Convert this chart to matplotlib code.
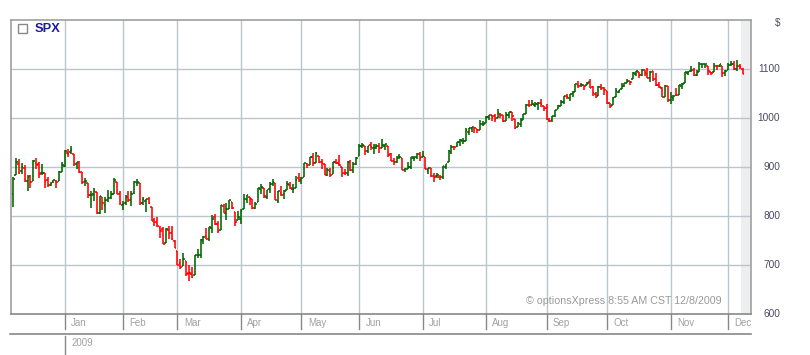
######
# SPX daily OHLC chart, Dec 2008 - Dec 2009 (optionsXpress style)
######

import numpy as np
import matplotlib
matplotlib.use("Agg")
import matplotlib.pyplot as plt
from matplotlib.lines import Line2D
from matplotlib.patches import Rectangle
from matplotlib.transforms import blended_transform_factory

plt.rcParams['font.family'] = ['Liberation Sans', 'DejaVu Sans']

# Daily bars from 5 Dec 2008 to 8 Dec 2009 (one row per month)
opens = [
    844.43, 882.71, 906.48, 892.17, 898.35, 871.79, 881.07, 871.53, 908.16, 905.98, 886.96, 887.20, 874.31, 863.87, 869.51, 872.37, 870.58, 890.59,
    902.99, 929.17, 931.17, 927.45, 905.73, 909.91, 890.40, 869.79, 867.28, 841.99, 844.45, 849.64, 806.77, 839.74, 822.16, 832.50, 837.30, 845.73, 868.89, 845.69,
    823.09, 825.69, 837.77, 831.75, 846.09, 868.24, 866.87, 827.41, 829.91, 833.95, 818.61, 791.06, 787.91, 775.87, 773.25, 744.69, 770.64, 765.76, 749.93,
    729.57, 704.44, 698.60, 708.27, 684.04, 680.76, 679.28, 719.59, 720.89, 751.97, 758.84, 753.88, 776.01, 797.92, 784.58, 772.31, 820.60, 806.81, 814.06, 828.68, 809.07, 790.88,
    793.59, 814.53, 835.13, 839.75, 834.12, 816.76, 829.29, 855.33, 856.88, 839.44, 854.54, 865.18, 868.27, 831.25, 847.26, 844.62, 853.91, 862.82, 854.48, 856.85, 876.59,
    872.74, 879.21, 906.10, 903.95, 919.58, 909.03, 922.99, 910.52, 905.40, 884.24, 892.76, 886.07, 909.67, 908.62, 900.42, 888.68, 887.00, 909.95, 892.96, 907.02,
    923.26, 942.87, 942.51, 932.49, 945.67, 938.12, 940.35, 942.73, 939.04, 943.44, 942.45, 925.60, 911.89, 910.86, 919.96, 918.13, 893.46, 896.31, 899.45, 918.84, 919.86, 927.15,
    920.82, 921.24, 894.27, 898.60, 881.90, 881.28, 880.03, 879.57, 900.77, 910.15, 930.17, 940.56, 942.07, 951.97, 953.40, 954.07, 972.16, 978.63, 981.48, 977.66, 976.01, 986.80,
    990.22, 1001.41, 1005.41, 1004.06, 999.83, 1008.89, 1005.77, 994.00, 1005.86, 1012.23, 998.18, 980.62, 986.88, 996.41, 1009.06, 1026.59, 1026.63, 1027.35, 1027.81, 1031.62, 1025.21,
    1019.52, 996.07, 996.12, 1003.84, 1018.67, 1025.36, 1032.99, 1043.92, 1040.15, 1049.03, 1053.99, 1067.87, 1066.60, 1067.14, 1066.35, 1072.69, 1062.56, 1049.48, 1045.38, 1063.69, 1061.02,
    1054.91, 1029.71, 1026.87, 1042.02, 1053.65, 1060.03, 1065.28, 1071.63, 1074.96, 1078.68, 1090.36, 1094.67, 1088.22, 1098.64, 1090.36, 1080.96, 1095.62, 1080.36, 1067.54, 1061.51, 1043.69, 1065.41,
    1036.18, 1040.92, 1047.14, 1047.30, 1064.95, 1072.31, 1091.86, 1096.04, 1098.31, 1087.59, 1094.13, 1109.22, 1109.44, 1106.44, 1094.66, 1094.86, 1105.83, 1106.49, 1105.47, 1091.07,
    1098.89, 1109.03, 1110.59, 1100.43, 1105.52, 1100.50,
]
highs = [
    879.42, 918.57, 916.26, 908.27, 904.63, 883.24, 884.63, 914.66, 918.85, 911.02, 905.47, 887.37, 880.44, 869.79, 873.74, 873.70, 891.12, 910.32,
    934.73, 936.63, 943.85, 927.45, 910.00, 911.93, 890.40, 877.02, 867.28, 851.59, 858.13, 849.64, 841.72, 839.74, 838.61, 852.53, 850.45, 877.86, 868.89, 851.66,
    830.78, 842.60, 851.85, 850.55, 870.75, 875.01, 868.05, 838.22, 835.48, 839.43, 818.61, 796.17, 797.58, 778.69, 777.85, 775.49, 780.12, 779.42, 751.27,
    729.57, 711.67, 724.12, 708.27, 699.09, 695.27, 719.60, 731.92, 752.63, 758.29, 774.53, 778.12, 803.04, 803.24, 788.91, 823.37, 823.65, 826.78, 832.98, 828.68, 809.07, 810.48,
    813.62, 845.61, 842.50, 839.75, 834.12, 828.42, 856.91, 864.31, 856.88, 852.93, 870.35, 875.63, 868.27, 850.09, 861.78, 852.87, 871.80, 868.83, 864.48, 882.06, 888.70,
    880.48, 907.85, 907.70, 920.28, 929.58, 930.17, 922.99, 915.57, 905.40, 898.36, 896.97, 910.00, 916.39, 924.60, 900.42, 896.65, 911.76, 913.84, 909.45, 920.02,
    947.77, 949.38, 942.51, 942.47, 951.69, 946.33, 946.92, 949.77, 956.23, 946.30, 942.45, 928.00, 918.44, 921.93, 927.09, 918.13, 898.69, 910.85, 921.42, 922.00, 927.99, 930.01,
    931.92, 921.24, 898.72, 898.60, 886.80, 887.86, 883.57, 901.05, 905.84, 933.95, 943.96, 941.89, 951.62, 956.53, 959.83, 979.42, 979.79, 982.49, 982.35, 977.76, 996.68, 993.18,
    1003.61, 1007.12, 1006.64, 1008.00, 1018.00, 1010.12, 1005.77, 1012.78, 1013.14, 1012.60, 998.18, 991.20, 999.61, 1008.92, 1027.59, 1035.82, 1037.75, 1032.47, 1033.33, 1039.47, 1025.21,
    1028.45, 1000.34, 1003.43, 1016.48, 1026.07, 1036.34, 1044.14, 1048.18, 1049.74, 1056.04, 1068.76, 1074.77, 1071.52, 1067.28, 1073.81, 1080.15, 1066.29, 1053.47, 1065.13, 1069.62, 1063.40,
    1054.91, 1030.60, 1042.58, 1060.55, 1058.02, 1070.67, 1071.51, 1079.46, 1075.30, 1093.17, 1096.56, 1094.67, 1100.17, 1098.64, 1101.36, 1095.21, 1095.83, 1091.75, 1072.48, 1063.26, 1066.83, 1065.41,
    1052.18, 1046.36, 1061.00, 1066.65, 1071.48, 1093.19, 1096.42, 1105.37, 1101.97, 1097.79, 1113.69, 1110.52, 1111.10, 1106.44, 1094.66, 1112.38, 1107.56, 1111.18, 1105.47, 1097.24,
    1112.28, 1115.58, 1117.28, 1119.13, 1110.72, 1101.50,
]
lows = [
    818.41, 882.71, 885.38, 885.45, 868.73, 851.35, 857.72, 871.53, 895.94, 877.44, 883.02, 857.09, 860.10, 861.44, 866.52, 857.07, 870.58, 889.67,
    899.35, 919.53, 927.28, 902.37, 896.81, 888.31, 864.32, 862.02, 836.93, 817.04, 830.66, 804.47, 804.30, 811.29, 806.07, 827.69, 835.40, 845.73, 844.15, 821.67,
    812.87, 821.98, 829.18, 819.91, 845.42, 861.65, 822.99, 822.30, 808.06, 825.21, 789.17, 780.43, 777.03, 754.25, 742.37, 744.69, 752.89, 751.75, 734.52,
    699.70, 692.30, 698.60, 677.93, 666.79, 672.88, 679.28, 713.85, 714.76, 742.46, 753.37, 749.93, 765.64, 781.82, 766.20, 772.31, 805.48, 791.37, 814.06, 813.43, 779.81, 790.88,
    783.32, 814.53, 826.70, 822.79, 814.53, 814.84, 829.29, 845.35, 836.31, 835.58, 847.04, 860.87, 832.39, 826.83, 840.57, 835.45, 853.91, 854.65, 847.12, 856.85, 868.51,
    866.10, 879.21, 897.34, 903.95, 901.36, 909.03, 908.68, 896.46, 882.80, 882.52, 878.94, 886.07, 905.22, 901.37, 879.61, 883.75, 881.46, 891.87, 887.60, 903.56,
    923.26, 938.46, 923.85, 929.32, 934.13, 926.44, 936.15, 927.97, 939.04, 935.66, 919.65, 911.60, 903.78, 907.94, 915.80, 893.04, 888.86, 896.31, 896.27, 913.03, 916.18, 912.86,
    920.82, 896.42, 886.36, 879.93, 869.32, 878.45, 872.81, 875.32, 896.50, 910.15, 927.45, 934.65, 940.99, 943.22, 947.75, 953.27, 965.95, 972.29, 969.35, 968.65, 976.01, 982.85,
    990.22, 996.68, 994.31, 992.49, 999.83, 1000.99, 992.40, 993.36, 1000.82, 994.60, 978.51, 980.62, 980.62, 996.39, 1009.06, 1022.48, 1026.21, 1021.57, 1016.20, 1023.13, 1014.62,
    996.28, 991.97, 992.25, 1001.65, 1018.67, 1023.97, 1028.04, 1038.40, 1035.00, 1043.42, 1052.87, 1061.20, 1064.27, 1057.46, 1066.35, 1060.39, 1045.85, 1041.17, 1045.38, 1057.83, 1046.47,
    1029.45, 1019.95, 1025.92, 1042.02, 1050.10, 1060.03, 1063.00, 1071.63, 1066.71, 1078.68, 1086.41, 1081.53, 1086.48, 1086.16, 1080.77, 1074.31, 1075.49, 1065.23, 1060.62, 1042.19, 1043.69, 1033.38,
    1029.38, 1033.94, 1045.15, 1047.30, 1059.32, 1072.31, 1087.40, 1093.81, 1084.90, 1085.33, 1094.13, 1102.19, 1102.70, 1088.40, 1086.81, 1094.86, 1097.63, 1104.75, 1083.74, 1086.25,
    1098.89, 1105.29, 1098.74, 1096.52, 1100.83, 1089.50,
]
closes = [
    876.07, 909.70, 888.67, 899.24, 873.59, 879.73, 868.57, 913.18, 904.42, 885.28, 887.88, 871.63, 863.16, 868.15, 872.80, 869.42, 890.64, 903.25,
    931.80, 927.45, 934.70, 906.65, 909.73, 890.35, 870.26, 871.79, 842.62, 843.74, 850.12, 805.22, 840.24, 827.50, 831.95, 836.57, 845.71, 874.09, 845.14, 825.88,
    825.44, 838.51, 832.23, 845.85, 868.60, 869.89, 827.16, 833.74, 835.19, 826.84, 789.17, 788.42, 778.94, 770.05, 743.33, 773.14, 764.90, 752.83, 735.09,
    700.82, 696.33, 712.87, 682.55, 683.38, 676.53, 719.60, 721.36, 750.74, 756.55, 753.89, 778.12, 794.35, 784.04, 768.54, 822.92, 806.12, 813.88, 832.86, 815.94, 787.53, 797.87,
    811.08, 834.38, 842.50, 835.48, 815.55, 825.16, 856.56, 858.73, 841.50, 852.06, 865.30, 869.60, 832.39, 850.08, 843.55, 851.92, 866.23, 857.51, 855.16, 873.64, 872.81,
    877.52, 907.24, 903.80, 919.53, 907.39, 929.23, 909.24, 908.35, 883.92, 893.07, 882.88, 909.71, 908.13, 903.47, 888.33, 887.00, 910.33, 893.06, 906.83, 919.14,
    942.87, 944.74, 931.76, 942.46, 940.09, 939.14, 942.43, 939.15, 944.89, 946.21, 923.72, 911.97, 910.71, 918.37, 921.23, 893.04, 895.10, 900.94, 920.26, 918.90, 927.23, 919.32,
    923.33, 896.42, 898.72, 881.03, 879.56, 882.68, 879.13, 901.05, 905.84, 932.68, 940.74, 940.38, 951.13, 954.58, 954.07, 976.29, 979.26, 982.18, 979.62, 975.15, 986.75, 987.48,
    1002.63, 1005.65, 1002.72, 997.08, 1010.48, 1007.10, 994.35, 1005.81, 1012.73, 1004.09, 979.73, 989.67, 996.46, 1007.37, 1026.13, 1025.57, 1028.00, 1028.12, 1030.98, 1028.93, 1020.62,
    998.04, 994.75, 1003.24, 1016.40, 1025.39, 1033.37, 1044.14, 1042.73, 1049.34, 1052.63, 1068.76, 1065.49, 1068.30, 1064.66, 1071.66, 1060.87, 1050.78, 1044.38, 1062.98, 1060.61, 1057.08,
    1029.85, 1025.21, 1040.46, 1054.72, 1057.58, 1065.48, 1071.49, 1076.19, 1073.19, 1092.02, 1096.56, 1087.68, 1097.91, 1091.06, 1081.40, 1092.91, 1079.60, 1066.95, 1063.41, 1042.63, 1066.11, 1036.19,
    1042.88, 1045.41, 1046.50, 1066.63, 1069.30, 1093.08, 1093.01, 1098.51, 1087.24, 1093.48, 1109.30, 1110.32, 1109.80, 1094.90, 1091.38, 1106.24, 1105.65, 1110.63, 1091.49, 1095.63,
    1108.86, 1109.24, 1099.92, 1105.98, 1103.25, 1090.50,
]

# First trading day of each month (bar index) and the axis labels
month_starts = [18, 38, 57, 79, 100, 120, 142, 164, 185, 206, 228, 248]
month_labels = ['Jan', 'Feb', 'Mar', 'Apr', 'May', 'Jun', 'Jul', 'Aug', 'Sep', 'Oct', 'Nov', 'Dec']
year_label = '2009'
price_ticks = [600, 700, 800, 900, 1000, 1100]

W, H = 810, 355
GREEN = '#006400'
RED = '#ff0000'
GRID = '#b9c6cb'
BORDER = '#a0a0a0'


def fx(x):
    return x / W


def fy(y):
    return 1 - y / H


def main():
    o = np.array(opens)
    h = np.array(highs)
    l = np.array(lows)
    c = np.array(closes)
    idx = np.arange(len(c))
    colours = np.where(c >= o, GREEN, RED)

    fig = plt.figure(figsize=(W / 100, H / 100), dpi=100)
    ax = fig.add_axes([fx(10.5), fy(314), fx(751 - 10.5), (314 - 20) / H])
    ax.set_xlim(-0.9, 255.9)
    ax.set_ylim(600, 1200)

    # shaded "today" region at the right
    ax.axvspan(252.6, 256.5, color='#eceef0', zorder=0, lw=0)

    # grid
    for p in price_ticks[1:]:
        ax.axhline(p, color=GRID, lw=1.0, zorder=1)
    for m in month_starts:
        ax.axvline(m, color=GRID, lw=1.0, zorder=1)

    # OHLC bars
    ax.vlines(idx, l, h, colors=colours, lw=1.15, zorder=3)
    ax.hlines(o, idx - 0.55, idx, colors=colours, lw=1.15, zorder=3)
    ax.hlines(c, idx, idx + 0.55, colors=colours, lw=1.15, zorder=3)

    ax.set_xticks([])
    ax.set_yticks([])
    for side in ['left', 'right', 'top', 'bottom']:
        ax.spines[side].set_color(BORDER)
        ax.spines[side].set_linewidth(1.2)
    ax.spines['bottom'].set_color('#888888')

    # price labels on the right
    ytrans = blended_transform_factory(fig.transFigure, ax.transData)
    for p in price_ticks:
        ax.text(fx(780), p, str(p), transform=ytrans, ha='right', va='center',
                fontsize=7.3, color='#4c4c62', clip_on=False)
    fig.text(fx(778), fy(23), '$', ha='center', va='center', fontsize=7.3, color='#4c4c62')

    # month axis below the plot
    xtrans = blended_transform_factory(ax.transData, fig.transFigure)
    for m, lab in zip(month_starts, month_labels):
        ax.add_line(Line2D([m, m], [fy(314), fy(329)], transform=xtrans,
                           color='#888888', lw=1.0, clip_on=False))
        ax.text(m + 2.2, fy(323.5), lab, transform=xtrans, ha='left', va='center',
                fontsize=7, color='#a0a0a0', clip_on=False)
    fig.add_artist(Line2D([fx(10), fx(751)], [fy(334), fy(334)], color='#888888', lw=1.2))
    ax.add_line(Line2D([month_starts[0]] * 2, [fy(336), fy(355)], transform=xtrans,
                       color='#888888', lw=1.0, clip_on=False))
    ax.text(month_starts[0] + 2.2, fy(343), year_label, transform=xtrans, ha='left',
            va='center', fontsize=7, color='#a0a0a0', clip_on=False)

    # legend box and symbol
    fig.add_artist(Rectangle((fx(18), fy(33)), fx(9), (33 - 24) / H, fill=False,
                             edgecolor='#888888', lw=1.0))
    fig.text(fx(35), fy(29), 'SPX', ha='left', va='center', fontsize=9.3,
             fontweight='bold', color='#1c1c9c')

    # watermark
    fig.text(fx(722), fy(301), '\u00a9 optionsXpress 8:55 AM CST 12/8/2009',
             ha='right', va='center', fontsize=7.7, color='#999999')

    fig.savefig('out.png', dpi=100)
    plt.close(fig)


if __name__ == "__main__":
    main()
